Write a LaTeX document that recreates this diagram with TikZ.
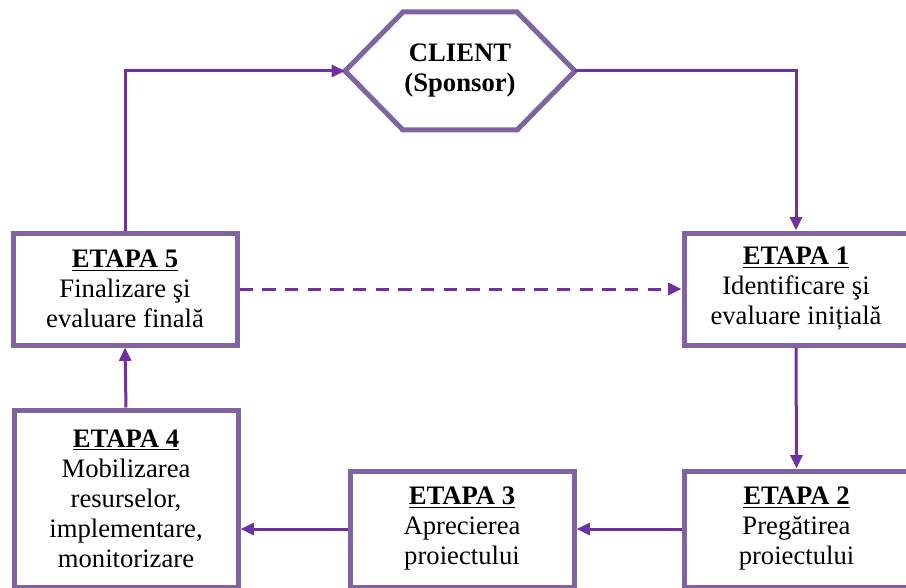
\documentclass[tikz,border=0pt]{standalone}
\usepackage{fontspec}
\setmainfont{Liberation Serif}
\usetikzlibrary{arrows.meta,calc}
\definecolor{boxpurple}{HTML}{8064A2}
\definecolor{arrowpurple}{HTML}{7030A0}

\begin{document}
\begin{tikzpicture}
        [x=0.75pt,y=-0.75pt,every node/.style={align=center,inner sep=0,font=\fontsize{20}{22.5}\selectfont},
        etapa/.style={draw=boxpurple,line width=3.75pt,fill=white,minimum width=168pt},
        flow/.style={draw=arrowpurple,line width=2.25pt,-{Triangle[length=10pt,width=9pt]}}]

        \useasboundingbox (0,0) rectangle (906,588);

        \node[minimum width=172.5pt,minimum height=88.5pt,outer sep=0] (client) at (460,71) {\textbf{CLIENT}\\\textbf{(Sponsor)}};
        \draw[boxpurple,line width=3.75pt] (client.west) -- ($(client.north west)+(58,0)$) -- ($(client.north east)+(-58,0)$) -- (client.east) -- ($(client.south east)+(-58,0)$) -- ($(client.south west)+(58,0)$) -- cycle;

        \node[etapa,minimum height=84pt] (e1) at (796,289) {\underline{\textbf{ETAPA 1}}\\Identificare şi\\evaluare inițială};
        \node[etapa,minimum height=87pt] (e2) at (796.5,529) {\underline{\textbf{ETAPA 2}}\\Pregătirea\\proiectului};
        \node[etapa,minimum height=87pt] (e3) at (462,529) {\underline{\textbf{ETAPA 3}}\\Aprecierea\\proiectului};
        \node[etapa,minimum height=132.75pt] (e4) at (126,498.5) {\underline{\textbf{ETAPA 4}}\\Mobilizarea\\resurselor,\\implementare,\\monitorizare};
        \node[etapa,minimum height=84pt] (e5) at (125,289) {\underline{\textbf{ETAPA 5}}\\Finalizare şi\\evaluare finală};

        \draw[flow] (client.east) -| (e1.north);
        \draw[flow] (e1.south) -- (e2.north);
        \draw[flow] (e2.west) -- (e3.east);
        \draw[flow] (e3.west) -- (e3.west -| e4.east);
        \draw[flow] (e4.north) -- (e5.south);
        \draw[flow] (e5.north) |- (client.west);
        \draw[flow,dash pattern=on 10pt off 7pt] (e5.east) -- (e1.west);

      \end{tikzpicture}
\end{document}
